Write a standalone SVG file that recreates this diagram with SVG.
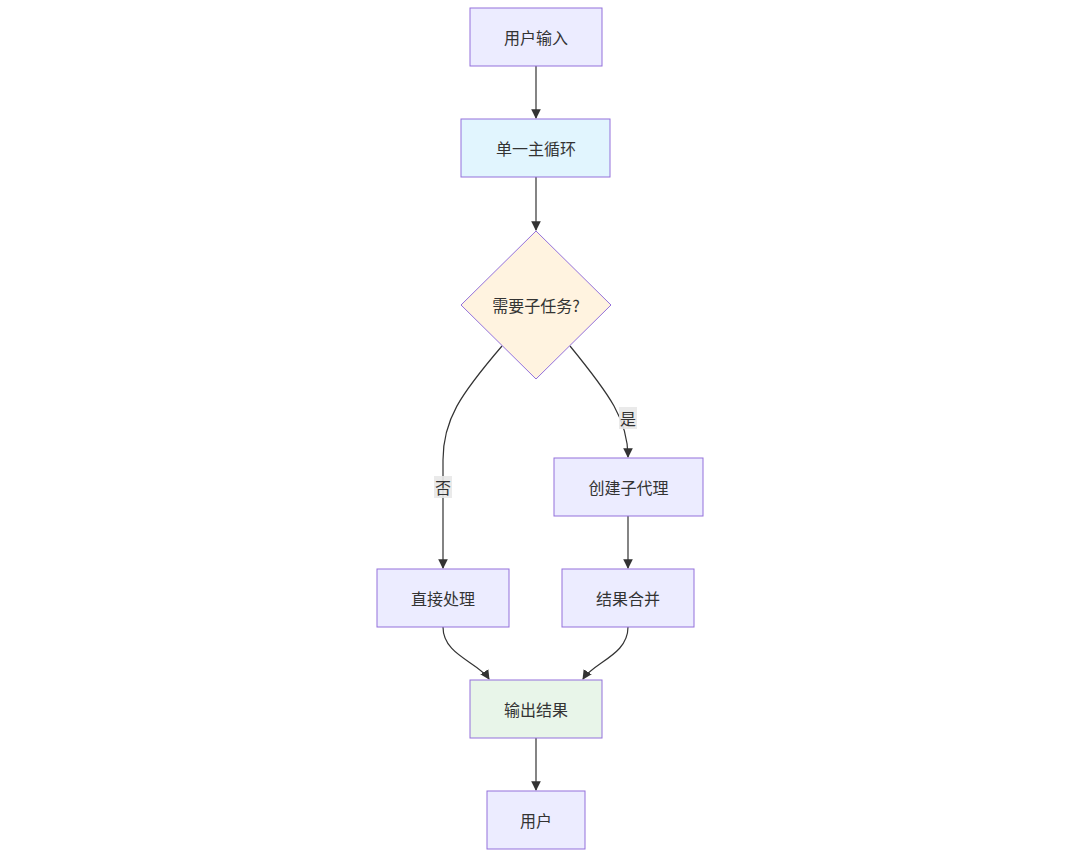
<svg xmlns="http://www.w3.org/2000/svg" width="1080" height="857" viewBox="0 0 1080 857">
<style>
.n{fill:#ECECFF;stroke:#9370DB;stroke-width:1}
text{font-family:"Noto Sans CJK SC","Liberation Sans",sans-serif;font-size:16px;fill:#333;text-anchor:middle;dominant-baseline:central}
.e{fill:none;stroke:#333;stroke-width:1.2}
.lb{fill:#e8e8e8;opacity:0.9}
</style>
<defs><marker id="a" viewBox="0 0 10 10" refX="9" refY="5" markerWidth="8" markerHeight="8" orient="auto"><path d="M0,0L10,5L0,10z" fill="#333"/></marker></defs>
<rect width="1080" height="857" fill="#fff"/>
<g id="edges">
<path class="e" d="M536,66L536,118" marker-end="url(#a)"/>
<path class="e" d="M536,177L536,230" marker-end="url(#a)"/>
<path class="e" d="M502,346C460,395 443,420 443,460L443,568" marker-end="url(#a)"/>
<path class="e" d="M570,346C610,395 628,420 628,457" marker-end="url(#a)"/>
<path class="e" d="M628,516L628,568" marker-end="url(#a)"/>
<path class="e" d="M443,627C443,655 478,662 489,679" marker-end="url(#a)"/>
<path class="e" d="M628,627C628,655 594,662 583,679" marker-end="url(#a)"/>
<path class="e" d="M536,738L536,790" marker-end="url(#a)"/>
<rect class="lb" x="619" y="407" width="18" height="22"/><text x="628" y="418">是</text>
<rect class="lb" x="434" y="476" width="18" height="22"/><text x="443" y="487">否</text>
</g>
<g id="n1"><rect class="n" x="470" y="8" width="132" height="58"/><text x="536" y="37">用户输入</text></g>
<g id="n2"><rect class="n" x="461" y="119" width="149" height="58" style="fill:#E1F5FE"/><text x="536" y="148">单一主循环</text></g>
<g id="n3"><polygon class="n" points="536,231 611,305 536,379 461,305" style="fill:#FFF3E0"/><text x="536" y="305">需要子任务?</text></g>
<g id="n4"><rect class="n" x="554" y="458" width="149" height="58"/><text x="628.5" y="487">创建子代理</text></g>
<g id="n5"><rect class="n" x="377" y="569" width="132" height="58"/><text x="443" y="598">直接处理</text></g>
<g id="n6"><rect class="n" x="562" y="569" width="132" height="58"/><text x="628" y="598">结果合并</text></g>
<g id="n7"><rect class="n" x="470" y="680" width="132" height="58" style="fill:#E8F5E9"/><text x="536" y="709">输出结果</text></g>
<g id="n8"><rect class="n" x="487" y="791" width="98" height="58"/><text x="536" y="820">用户</text></g>
</svg>
